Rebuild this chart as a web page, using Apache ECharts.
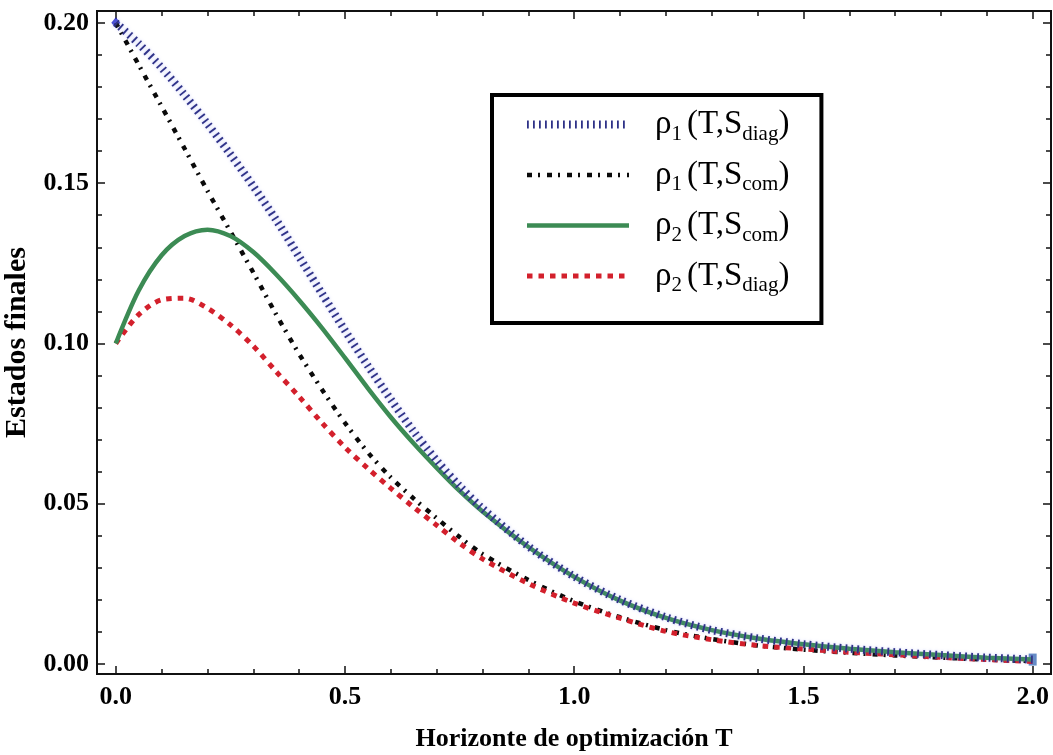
<!DOCTYPE html>
<html>
<head>
<meta charset="utf-8">
<script src="https://cdn.jsdelivr.net/npm/echarts@6/dist/echarts.min.js"></script>
<style>
  html, body { margin: 0; padding: 0; background: #fff; }
  #chart { width: 1053px; height: 755px; }
</style>
</head>
<body>
<div id="chart"></div>
<script>
// horizonte T
const T = [0, 0.05, 0.1, 0.15, 0.2, 0.25, 0.3, 0.35, 0.4, 0.45, 0.5, 0.55, 0.6, 0.65, 0.7, 0.75,
  0.8, 0.9, 1.0, 1.1, 1.2, 1.3, 1.4, 1.5, 1.6, 1.7, 1.8, 1.9, 2.0]
// rho1(T,S_diag)
const rho1Diag = [0.2000, 0.1935, 0.1860, 0.1775, 0.1685, 0.1590, 0.1490, 0.1385, 0.1270, 0.1155,
  0.1040, 0.0930, 0.0825, 0.0725, 0.0635, 0.0555, 0.0485, 0.0367, 0.0273, 0.0200, 0.0146,
  0.0106, 0.0080, 0.0062, 0.0048, 0.0037, 0.0028, 0.0020, 0.0014]
// rho1(T,S_com)
const rho1Com = [0.2000, 0.1869, 0.1739, 0.1608, 0.1476, 0.1349, 0.1221, 0.1090, 0.0967, 0.0856,
  0.0752, 0.0660, 0.0582, 0.0516, 0.0455, 0.0396, 0.0343, 0.0262, 0.0196, 0.0146, 0.0106,
  0.0078, 0.0058, 0.0045, 0.0035, 0.0027, 0.0020, 0.0014, 0.0009]
// rho2(T,S_com)
const rho2Com = [0.1000, 0.1165, 0.1275, 0.1335, 0.1355, 0.1335, 0.1285, 0.1215, 0.1135, 0.1048,
  0.0955, 0.0860, 0.0770, 0.0688, 0.0612, 0.0540, 0.0476, 0.0365, 0.0272, 0.0198, 0.0144,
  0.0106, 0.0080, 0.0062, 0.0048, 0.0037, 0.0028, 0.0020, 0.0014]
// rho2(T,S_diag)
const rho2Diag = [0.1000, 0.1090, 0.1136, 0.1141, 0.1110, 0.1058, 0.0992, 0.0912, 0.0834, 0.0752,
  0.0676, 0.0610, 0.0548, 0.0489, 0.0433, 0.0377, 0.0328, 0.0251, 0.0190, 0.0143, 0.0102,
  0.0076, 0.0058, 0.0047, 0.0037, 0.0029, 0.0021, 0.0014, 0.0008]

const xMajor = [0, 0.5, 1.0, 1.5, 2.0]
const xMinor = [0.1, 0.2, 0.3, 0.4, 0.6, 0.7, 0.8, 0.9, 1.1, 1.2, 1.3, 1.4, 1.6, 1.7, 1.8, 1.9]
const yMajor = [0, 0.05, 0.10, 0.15, 0.20]
const yMinor = [0.01, 0.02, 0.03, 0.04, 0.06, 0.07, 0.08, 0.09, 0.11, 0.12, 0.13, 0.14, 0.16, 0.17, 0.18, 0.19]

const X_MIN = -0.041, X_MAX = 2.04
const Y_MIN = -0.0031, Y_MAX = 0.2037

const serif = '"Liberation Serif", "Times New Roman", "DejaVu Serif", serif'

const pts = arr => T.map((t, i) => [t, arr[i]])

function frameAxis(kind, pos, ticks, len, withLabel) {
  const ax = {
    type: 'value', position: pos, offset: 0,
    min: kind === 'x' ? X_MIN : Y_MIN, max: kind === 'x' ? X_MAX : Y_MAX,
    axisLine: { show: true, onZero: false, lineStyle: { color: '#111', width: 2 } },
    axisTick: { show: true, inside: true, length: len, customValues: ticks, lineStyle: { color: '#111', width: 1.5 } },
    axisLabel: { show: false },
    splitLine: { show: false }
  }
  if (withLabel) {
    ax.axisLabel = {
      show: true, customValues: ticks, color: '#000', fontFamily: serif, fontWeight: 'bold', fontSize: 26,
      margin: kind === 'x' ? 10 : 8,
      formatter: v => v.toFixed(kind === 'x' ? 1 : 2)
    }
  }
  return ax
}

const xAxes = [frameAxis('x', 'bottom', xMajor, 8, true), frameAxis('x', 'bottom', xMinor, 5, false),
  frameAxis('x', 'top', xMajor, 8, false), frameAxis('x', 'top', xMinor, 5, false)]
xAxes[0].name = 'Horizonte de optimización T'
xAxes[0].nameLocation = 'middle'
xAxes[0].nameGap = 52
xAxes[0].nameTextStyle = { color: '#000', fontFamily: serif, fontWeight: 'bold', fontSize: 26 }

const yAxes = [frameAxis('y', 'left', yMajor, 8, true), frameAxis('y', 'left', yMinor, 5, false),
  frameAxis('y', 'right', yMajor, 8, false), frameAxis('y', 'right', yMinor, 5, false)]
yAxes[0].name = 'Estados finales'
yAxes[0].nameLocation = 'middle'
yAxes[0].nameGap = 54
yAxes[0].nameTextStyle = { color: '#000', fontFamily: serif, fontWeight: 'bold', fontSize: 30 }

const names = ['ρ1(T,Sdiag)', 'ρ1(T,Scom)', 'ρ2(T,Scom)', 'ρ2(T,Sdiag)']

const myChart = echarts.init(document.getElementById('chart'), null, { renderer: 'canvas' })
const option = {
  animation: false,
  backgroundColor: '#fff',
  grid: { left: 97, right: 2, top: 11, bottom: 81, outerBoundsMode: 'none', containLabel: false },
  xAxis: xAxes,
  yAxis: yAxes,
  legend: {
    data: names,
    orient: 'vertical',
    left: 492, top: 95,
    padding: [13, 32, 27, 31],
    itemGap: 14,
    itemWidth: 102,
    itemHeight: 14,
    backgroundColor: '#fff',
    borderColor: '#000',
    borderWidth: 4,
    borderRadius: 0,
    selectedMode: false,
    itemStyle: { opacity: 0 },
    lineStyle: { width: 'inherit' },
    textStyle: {
      fontFamily: serif,
      rich: {
        r: { fontSize: 33, fontFamily: serif, color: '#000', lineHeight: 40, padding: [0, 0, 0, 21] },
        n: { fontSize: 21, fontFamily: serif, color: '#000', lineHeight: 22, verticalAlign: 'bottom', padding: [0, 5, 0, 0] },
        t: { fontSize: 33, fontFamily: serif, color: '#000', lineHeight: 40 },
        s: { fontSize: 21, fontFamily: serif, color: '#000', lineHeight: 24, verticalAlign: 'bottom' }
      }
    },
    formatter: name => {
      const m = name.match(/ρ(\d)\(T,S(\w+)\)/)
      return '{r|ρ}{n|' + m[1] + '}{t|(T,S}{s|' + m[2] + '}{t|)}'
    }
  },
  series: [
    {
      name: names[1], type: 'line', data: pts(rho1Com), symbol: 'none', smooth: 0.3,
      lineStyle: { color: '#0a0a0a', width: 4.5, type: [5, 6, 2, 7] }, itemStyle: { color: '#0a0a0a' }
    },
    {
      name: names[3], type: 'line', data: pts(rho2Diag), symbol: 'none', smooth: 0.3,
      lineStyle: { color: '#d3202c', width: 5, type: [5.5, 6] }, itemStyle: { color: '#d3202c' }
    },
    {
      name: names[2], type: 'line', data: pts(rho2Com), symbol: 'none', smooth: 0.3,
      lineStyle: { color: '#3c8b54', width: 4.5 }, itemStyle: { color: '#3c8b54' }
    },
    {
      name: names[0], type: 'line', data: pts(rho1Diag), symbol: 'none', smooth: 0.3,
      lineStyle: {
        color: '#2f3288', width: 8, type: [1.8, 4.2],
        shadowColor: 'rgba(120,130,235,0.55)', shadowBlur: 3
      },
      itemStyle: { color: '#2f3288' }
    },
    {
      name: 'extremos', type: 'scatter', silent: true,
      data: [
        { value: [T[0], rho1Diag[0]], symbol: 'diamond', symbolSize: [9, 11], itemStyle: { color: '#1c22c8' } },
        { value: [T[T.length - 1], rho1Diag[rho1Diag.length - 1]], symbol: 'rect', symbolSize: [8, 12], itemStyle: { color: '#3e6fb6' } }
      ]
    }
  ]
}
myChart.setOption(option)
</script>
</body>
</html>
